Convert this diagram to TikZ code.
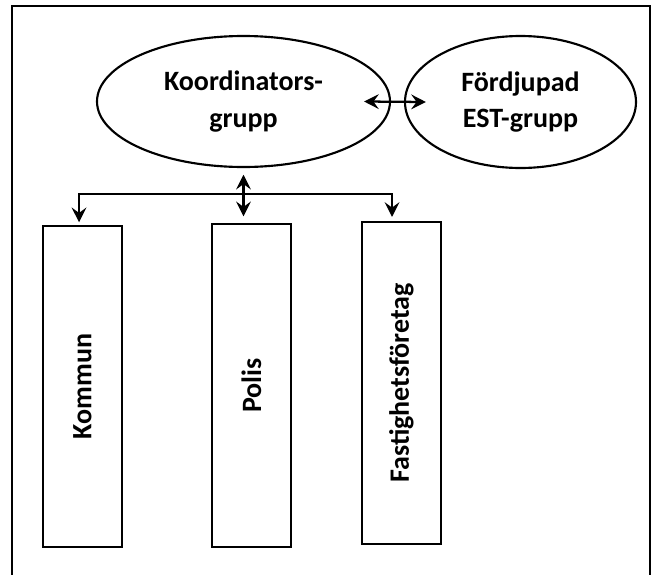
\documentclass[tikz,border=0pt]{standalone}
\usepackage{fontspec}
\setmainfont{Carlito}
\usepackage{graphicx}
\usetikzlibrary{arrows.meta}
\usetikzlibrary{shapes.geometric}
\tikzset{grp/.style = {draw, ellipse, line width=1.6pt, inner sep=0, align=center, font=\fontsize{21}{27.5}\selectfont\bfseries}}
\tikzset{part/.style = {draw, rectangle, line width=1.6pt, inner sep=0, minimum width=59.25pt, font=\fontsize{21}{25}\selectfont\bfseries}}
\tikzset{arr/.style = {line width=1.7pt, -{Stealth[length=11pt, width=11pt, inset=4pt]}}}
\tikzset{dbl/.style = {line width=1.7pt, {Stealth[length=11pt, width=11pt, inset=4pt]}-{Stealth[length=11pt, width=11pt, inset=4pt]}}}

\begin{document}
\begin{tikzpicture}[x=0.75pt, y=-0.75pt]
        \useasboundingbox (0,0) rectangle (654,575);
        \clip (0,0) rectangle (654,575);
        \draw[line width=1.3pt] (12,6) rectangle (650,600);
        \node[grp, minimum width=219.75pt, minimum height=98.25pt] (koord) at (243.5,101.5) {Koordinators-\\grupp};
        \node[grp, minimum width=173.25pt, minimum height=99pt] (ferd) at (520.5,102) {Fördjupad\\EST-grupp};
        \node[part, minimum height=240.75pt] (kommun) at (82.5,386.5) {\rotatebox{90}{Kommun}};
        \node[part, minimum height=242.25pt] (polis) at (251.5,385.5) {\rotatebox{90}{Polis}};
        \node[part, minimum height=241.5pt] (fastig) at (401.5,383) {\rotatebox{90}{Fastighetsföretag}};
        \coordinate (split) at (243.5,194);
        \draw[dbl] ([xshift=-20.25pt]koord.east) -- ([xshift=16.5pt]ferd.west);
        \draw[dbl, shorten <=5pt, shorten >=5pt] (koord.south) -- (koord.south |- polis.north);
        \draw[arr, shorten >=2pt] (split) -| ([xshift=-2.6pt]kommun.north);
        \draw[arr, shorten >=3pt] (split) -| ([xshift=-7.1pt]fastig.north);
    \end{tikzpicture}
\end{document}
